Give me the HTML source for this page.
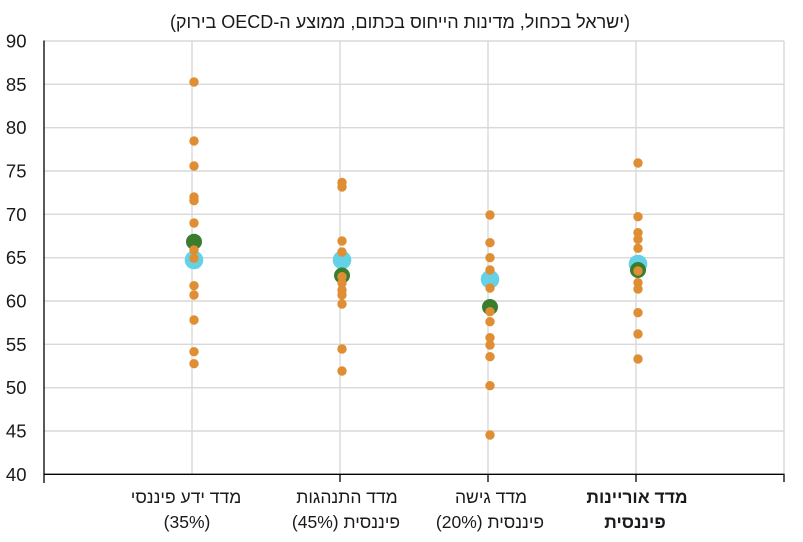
<!DOCTYPE html>
<html><head><meta charset="utf-8">
<style>
html,body{margin:0;padding:0;background:#fff;}
#wrap{position:relative;width:803px;height:542px;overflow:hidden;background:#fff;font-family:"Liberation Sans","DejaVu Sans",sans-serif;color:#1a1a1a;}
.t{position:absolute;white-space:nowrap;direction:rtl;font-size:17.5px;line-height:18px;}
.c{transform:translateX(50%);}
svg{position:absolute;left:0;top:0;}
</style></head><body>
<div id="wrap">
<svg width="803" height="542" viewBox="0 0 803 542">
  <g stroke="#d9d9d9" stroke-width="1.4" fill="none">
    <line x1="44" y1="41" x2="784" y2="41"/>
    <line x1="44" y1="84.3" x2="784" y2="84.3"/>
    <line x1="44" y1="127.7" x2="784" y2="127.7"/>
    <line x1="44" y1="171" x2="784" y2="171"/>
    <line x1="44" y1="214.3" x2="784" y2="214.3"/>
    <line x1="44" y1="257.7" x2="784" y2="257.7"/>
    <line x1="44" y1="301" x2="784" y2="301"/>
    <line x1="44" y1="344.3" x2="784" y2="344.3"/>
    <line x1="44" y1="387.7" x2="784" y2="387.7"/>
    <line x1="44" y1="431" x2="784" y2="431"/>
    <line x1="192" y1="41" x2="192" y2="474"/>
    <line x1="340" y1="41" x2="340" y2="474"/>
    <line x1="488" y1="41" x2="488" y2="474"/>
    <line x1="636" y1="41" x2="636" y2="474"/>
    <line x1="784" y1="41" x2="784" y2="474"/>
  </g>
  <g stroke="#000" stroke-width="1.3">
    <line x1="44" y1="40.5" x2="44" y2="483"/>
    <line x1="44" y1="474.3" x2="784.5" y2="474.3"/>
    <line x1="340" y1="474" x2="340" y2="482"/>
    <line x1="488" y1="474" x2="488" y2="482"/>
    <line x1="636" y1="474" x2="636" y2="482"/>
    <line x1="784" y1="474" x2="784" y2="482"/>
  </g>
  <g font-family="Liberation Sans, DejaVu Sans, sans-serif" font-size="18.5" fill="#1a1a1a" text-anchor="end">
    <text x="26.5" y="47.5">90</text>
    <text x="26.5" y="90.8">85</text>
    <text x="26.5" y="134.2">80</text>
    <text x="26.5" y="177.5">75</text>
    <text x="26.5" y="220.8">70</text>
    <text x="26.5" y="264.2">65</text>
    <text x="26.5" y="307.5">60</text>
    <text x="26.5" y="350.8">55</text>
    <text x="26.5" y="394.2">50</text>
    <text x="26.5" y="437.5">45</text>
    <text x="26.5" y="480.8">40</text>
  </g>
  <g fill="#63d2e6">
    <circle cx="194" cy="260" r="9.3"/>
    <circle cx="342" cy="260" r="9.3"/>
    <circle cx="490" cy="279.3" r="9.3"/>
    <circle cx="638" cy="264" r="9.3"/>
  </g>
  <g fill="#3a7d2e">
    <circle cx="194" cy="241.7" r="8"/>
    <circle cx="342" cy="275.5" r="8"/>
    <circle cx="490" cy="307" r="8"/>
    <circle cx="638" cy="270" r="8"/>
  </g>
  <g fill="#df8e34">
    <circle cx="194" cy="82" r="4.7"/>
    <circle cx="194" cy="141" r="4.7"/>
    <circle cx="194" cy="166" r="4.7"/>
    <circle cx="194" cy="197" r="4.7"/>
    <circle cx="194" cy="200.7" r="4.7"/>
    <circle cx="194" cy="223" r="4.7"/>
    <circle cx="194" cy="250" r="4.7"/>
    <circle cx="194" cy="258.3" r="4.7"/>
    <circle cx="194" cy="285.7" r="4.7"/>
    <circle cx="194" cy="295" r="4.7"/>
    <circle cx="194" cy="320" r="4.7"/>
    <circle cx="194" cy="351.7" r="4.7"/>
    <circle cx="194" cy="363.7" r="4.7"/>
    <circle cx="342" cy="182.5" r="4.7"/>
    <circle cx="342" cy="187" r="4.7"/>
    <circle cx="342" cy="241" r="4.7"/>
    <circle cx="342" cy="252" r="4.7"/>
    <circle cx="342" cy="276.7" r="4.7"/>
    <circle cx="342" cy="283" r="4.7"/>
    <circle cx="342" cy="290" r="4.7"/>
    <circle cx="342" cy="295" r="4.7"/>
    <circle cx="342" cy="304" r="4.7"/>
    <circle cx="342" cy="349" r="4.7"/>
    <circle cx="342" cy="371" r="4.7"/>
    <circle cx="490" cy="215" r="4.7"/>
    <circle cx="490" cy="242.7" r="4.7"/>
    <circle cx="490" cy="257.7" r="4.7"/>
    <circle cx="490" cy="270" r="4.7"/>
    <circle cx="490" cy="288" r="4.7"/>
    <circle cx="490" cy="311.7" r="4.7"/>
    <circle cx="490" cy="321.7" r="4.7"/>
    <circle cx="490" cy="337.7" r="4.7"/>
    <circle cx="490" cy="345" r="4.7"/>
    <circle cx="490" cy="356.7" r="4.7"/>
    <circle cx="490" cy="385.7" r="4.7"/>
    <circle cx="490" cy="435" r="4.7"/>
    <circle cx="638" cy="163" r="4.7"/>
    <circle cx="638" cy="216.7" r="4.7"/>
    <circle cx="638" cy="232.7" r="4.7"/>
    <circle cx="638" cy="239.3" r="4.7"/>
    <circle cx="638" cy="248.3" r="4.7"/>
    <circle cx="638" cy="271" r="4.7"/>
    <circle cx="638" cy="282.7" r="4.7"/>
    <circle cx="638" cy="289" r="4.7"/>
    <circle cx="638" cy="312.7" r="4.7"/>
    <circle cx="638" cy="334" r="4.7"/>
    <circle cx="638" cy="359" r="4.7"/>
  </g>
</svg>
<div class="t" style="right:173px;top:12px;font-size:18px;line-height:20px;">(ישראל בכחול, מדינות הייחוס בכתום, ממוצע ה-OECD בירוק)</div>
<div class="t c" style="right:617px;top:488px;">מדד ידע פיננסי</div>
<div class="t c" style="right:616px;top:513px;">(35%)</div>
<div class="t c" style="right:456px;top:488px;">מדד התנהגות</div>
<div class="t c" style="right:457px;top:513px;">פיננסית (45%)</div>
<div class="t c" style="right:312px;top:488px;">מדד גישה</div>
<div class="t c" style="right:313px;top:513px;">פיננסית (20%)</div>
<div class="t c" style="right:166px;top:488px;font-weight:bold;">מדד אוריינות</div>
<div class="t c" style="right:168px;top:513px;font-weight:bold;">פיננסית</div>
</div>
</body></html>
